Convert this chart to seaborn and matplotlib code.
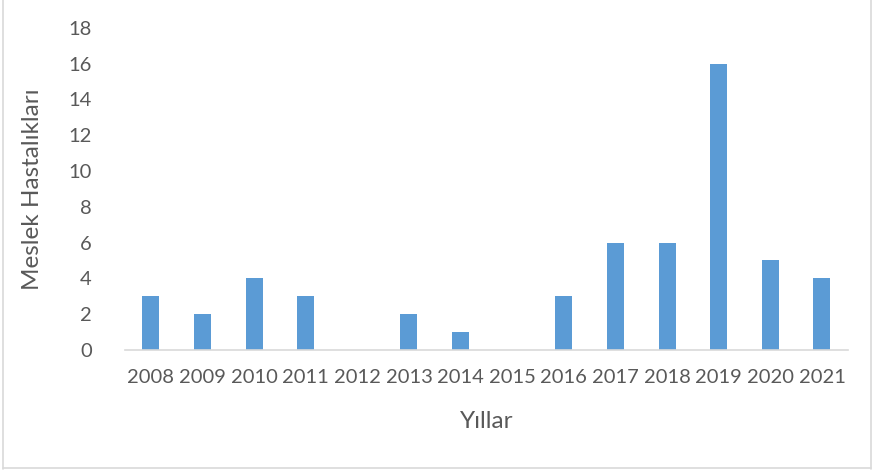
import matplotlib
matplotlib.use("Agg")
import matplotlib.pyplot as plt
import seaborn as sns
import pandas as pd
from matplotlib.lines import Line2D

# Data
years = ["2008", "2009", "2010", "2011", "2012", "2013", "2014",
         "2015", "2016", "2017", "2018", "2019", "2020", "2021"]
cases = [3, 2, 4, 3, 0, 2, 1, 0, 3, 6, 6, 16, 5, 4]
y_ticks = list(range(0, 20, 2))

df = pd.DataFrame({"Yil": years, "Vaka": cases})

sns.set_theme(style="white")
plt.rcParams["font.family"] = ["Lato", "DejaVu Sans"]

text_color = "#595959"
bar_color = "#5B9BD5"

fig = plt.figure(figsize=(8.74, 4.71), dpi=100)
ax = fig.add_axes([0.143, 0.257, 0.827, 0.684])

sns.barplot(data=df, x="Yil", y="Vaka", color=bar_color, width=0.33,
            saturation=1, linewidth=0, ax=ax)

ax.set_ylim(0, 18)
ax.set_yticks(y_ticks)
ax.set_xlim(-0.5, len(years) - 0.5)
for side in ["top", "right", "left"]:
    ax.spines[side].set_visible(False)
ax.spines["bottom"].set_color("#D9D9D9")
ax.spines["bottom"].set_linewidth(1.2)
ax.tick_params(axis="both", length=0, labelsize=14.5, colors=text_color)
ax.tick_params(axis="x", pad=14)
ax.tick_params(axis="y", pad=24)

ax.set_xlabel("Yıllar", fontsize=17.5, color=text_color, labelpad=18)
ax.set_ylabel("Meslek Hastalıkları", fontsize=17.5, color=text_color, labelpad=18)

# light frame around the chart area
frame_kw = dict(color="#D9D9D9", linewidth=1.2, transform=fig.transFigure)
fig.add_artist(Line2D([0.004, 0.004], [0.005, 1.0], **frame_kw))
fig.add_artist(Line2D([0.997, 0.997], [0.005, 1.0], **frame_kw))
fig.add_artist(Line2D([0.004, 0.997], [0.006, 0.006], **frame_kw))

fig.savefig("out.png", dpi=100)
